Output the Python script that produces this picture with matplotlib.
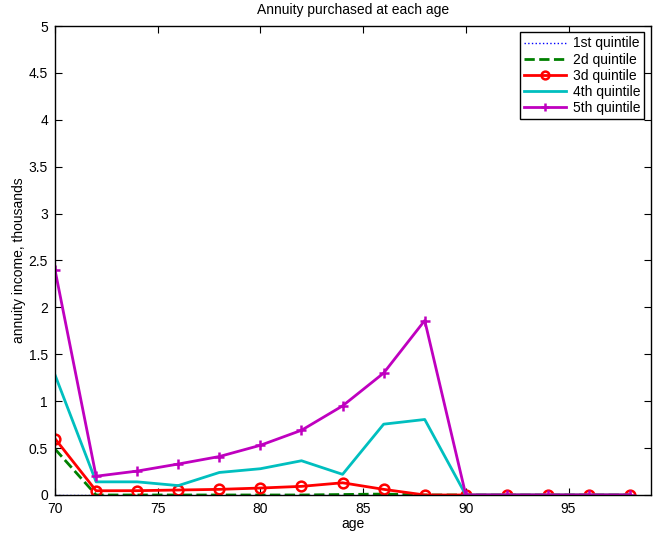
import matplotlib
matplotlib.use("Agg")
import matplotlib.pyplot as plt
import numpy as np

plt.rcParams['font.family'] = ['Liberation Sans', 'DejaVu Sans']

age = [70, 72, 74, 76, 78, 80, 82, 84, 86, 88, 90, 92, 94, 96, 98]
q1 = [0, 0, 0, 0, 0, 0, 0, 0, 0, 0, 0, 0, 0, 0, 0]
q2 = [0.49, 0, 0, 0, 0, 0, 0, 0.005, 0.01, 0, 0, 0, 0, 0, 0]
q3 = [0.60, 0.045, 0.046, 0.053, 0.06, 0.074, 0.092, 0.13, 0.06, 0, 0, 0, 0, 0, 0]
q4 = [1.28, 0.14, 0.14, 0.10, 0.24, 0.28, 0.365, 0.22, 0.755, 0.805, 0, 0, 0, 0, 0]
q5 = [2.40, 0.20, 0.255, 0.33, 0.41, 0.53, 0.69, 0.95, 1.30, 1.86, 0, 0, 0, 0, 0]

labels = ['1st quintile', '2d quintile', '3d quintile', '4th quintile', '5th quintile']

fig = plt.figure(figsize=(6.66, 5.35), dpi=100)
ax = fig.add_axes([0.0826, 0.0748, 0.8944, 0.8766])

ax.plot(age, q1, ':', color='blue', lw=1, label=labels[0])
ax.plot(age, q2, '--', color='green', lw=2, label=labels[1])
ax.plot(age, q3, '-', color='red', lw=2, marker='o', ms=7, mfc='none', mew=1.8, label=labels[2])
ax.plot(age, q4, '-', color='c', lw=2, label=labels[3])
ax.plot(age, q5, '-', color='m', lw=2, marker='+', ms=7, mew=1.8, label=labels[4])

ax.set_xlim(70, 99)
ax.set_ylim(0, 5)
ax.set_xticks([70, 75, 80, 85, 90, 95])
ax.set_yticks(np.arange(0, 5.01, 0.5))
ax.set_yticklabels(['0', '0.5', '1', '1.5', '2', '2.5', '3', '3.5', '4', '4.5', '5'])
ax.tick_params(direction='in', top=True, right=True, labelsize=10, length=5, pad=5)
for s in ax.spines.values():
    s.set_linewidth(1)

ax.set_title('Annuity purchased at each age', fontsize=10, pad=9)
ax.set_xlabel('age', fontsize=10, labelpad=1)
ax.set_ylabel('annuity income, thousands', fontsize=10, labelpad=2)

leg = ax.legend(loc='upper right', fontsize=10, fancybox=False, framealpha=1,
                edgecolor='black', borderaxespad=0.45, handlelength=3.0,
                labelspacing=0.15, borderpad=0.3, markerscale=0.8, handletextpad=0.5)
leg.get_frame().set_linewidth(1)

fig.savefig('out.png', dpi=100)
